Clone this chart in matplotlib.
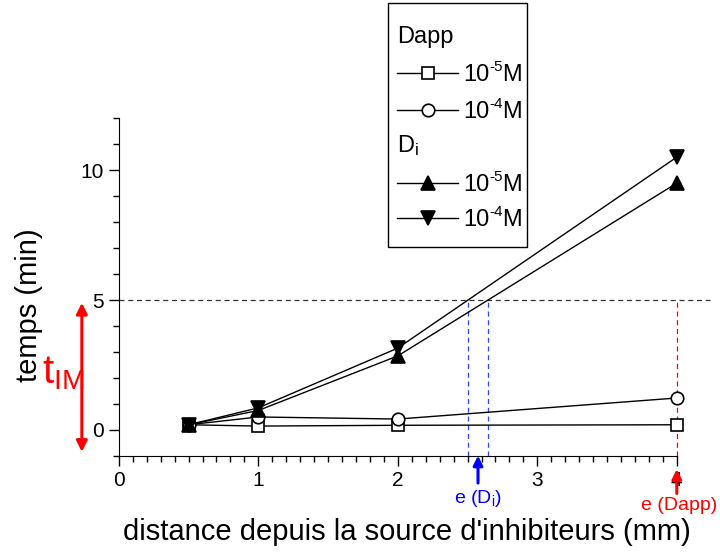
import numpy as np
import matplotlib.pyplot as plt
from matplotlib.lines import Line2D
from matplotlib.patches import Rectangle

plt.rcParams['font.family'] = ['Liberation Sans', 'DejaVu Sans']
plt.rcParams['mathtext.fontset'] = 'custom'
plt.rcParams['mathtext.rm'] = 'Liberation Sans'
plt.rcParams['mathtext.it'] = 'Liberation Sans:italic'

# distance from the inhibitor source (mm)
distance = [0.5, 1, 2, 4]
# times (min)
dapp_5 = [0.2, 0.15, 0.18, 0.2]
dapp_4 = [0.2, 0.5, 0.42, 1.23]
di_5 = [0.2, 0.75, 2.85, 9.5]
di_4 = [0.2, 0.85, 3.15, 10.5]
t_im = 5.0

series = [
    (dapp_5, 's', 'white', 8),
    (dapp_4, 'o', 'white', 9),
    (di_5, '^', 'black', 10),
    (di_4, 'v', 'black', 10),
]
conc = ['-5', '-4', '-5', '-4']

fig = plt.figure(figsize=(7.2, 5.52), dpi=100)
ax = fig.add_axes([0.165, 0.174, 0.775, 0.612])

for ys, mk, fc, ms in series:
    ax.plot(distance, ys, color='black', lw=1, marker=mk, ms=ms,
            mfc=fc, mec='black', mew=1.2, clip_on=False, zorder=3)

ax.set_xlim(0, 4)
ax.set_ylim(-1, 12)
ax.set_xticks([0, 1, 2, 3, 4])
ax.set_yticks([0, 5, 10])
ax.set_xticks(np.arange(0, 4.01, 0.1), minor=True)
ax.set_yticks(np.arange(-1, 12.01, 1), minor=True)
ax.tick_params(which='major', length=7, width=1, labelsize=15)
ax.tick_params(which='minor', length=4, width=1)
for s in ['top', 'right']:
    ax.spines[s].set_visible(False)
ax.set_xlabel("distance depuis la source d'inhibiteurs (mm)", fontsize=21)
ax.set_ylabel("temps (min)", fontsize=21)
ax.xaxis.set_label_coords(0.516, -0.185)
ax.yaxis.set_label_coords(-0.136, 0.447)

# threshold time and the distances where it is reached
ax.plot([0, 4.24], [t_im, t_im], color='#333333', lw=0.9, ls=(0, (4, 3)), clip_on=False)
e_di = [np.interp(t_im, d, distance) for d in (di_4, di_5)]
for xe in e_di:
    ax.plot([xe, xe], [-1, t_im], color='#3344ff', lw=0.9, ls=(0, (4, 3)))
ax.plot([4, 4], [-1, t_im], color='red', lw=0.9, ls=(0, (4, 3)), clip_on=False)

x_arrow = np.mean(e_di)
ax.annotate('', xy=(x_arrow, -0.88), xytext=(x_arrow, -2.15),
            arrowprops=dict(arrowstyle='-|>', color='blue', lw=2.2, mutation_scale=14),
            annotation_clip=False)
ax.text(x_arrow, -2.62, r'e (D$_{\mathregular{i}}$)', color='blue', fontsize=14,
        ha='center', va='center', clip_on=False)
ax.annotate('', xy=(4, -1.4), xytext=(4, -2.55),
            arrowprops=dict(arrowstyle='-|>', color='red', lw=2.2, mutation_scale=14),
            annotation_clip=False)
ax.text(4.02, -2.92, 'e (Dapp)', color='red', fontsize=14,
        ha='center', va='center', clip_on=False)

# t_IM double arrow
ax.annotate('', xy=(-0.265, t_im), xytext=(-0.265, -0.95),
            arrowprops=dict(arrowstyle='<|-|>', color='red', lw=2.2, mutation_scale=16),
            annotation_clip=False)
ax.text(-0.40, 2.2, r't$_{\mathregular{IM}}$', color='red', fontsize=29,
        ha='center', va='center', clip_on=False)

# legend box drawn by hand, in figure pixels
W, H = 720.0, 552.0
def fx(px):
    return px / W
def fy(py):
    return 1 - py / H

fig.add_artist(Rectangle((fx(388), fy(247)), fx(527) - fx(388), fy(3) - fy(247),
                         transform=fig.transFigure, fill=False, ec='black', lw=1))
fig.text(fx(397), fy(37), 'Dapp', fontsize=17, va='center', ha='left')
fig.text(fx(397), fy(146), r'D$_{\mathregular{i}}$', fontsize=17, va='center', ha='left')
rows = [73, 110, 183, 218]
for py, (ys, mk, fc, ms), c in zip(rows, series, conc):
    fig.add_artist(Line2D([fx(397), fx(458)], [fy(py), fy(py)], transform=fig.transFigure,
                          color='black', lw=1))
    fig.add_artist(Line2D([fx(428)], [fy(py)], transform=fig.transFigure, marker=mk,
                          ms=ms, mfc=fc, mec='black', mew=1.2, ls='none'))
    fig.text(fx(463), fy(py + 8), '10', fontsize=17, va='baseline', ha='left')
    fig.text(fx(489), fy(py - 2), c, fontsize=11, va='baseline', ha='left')
    fig.text(fx(502), fy(py + 8), 'M', fontsize=17, va='baseline', ha='left')

fig.savefig('out.png', dpi=100)
